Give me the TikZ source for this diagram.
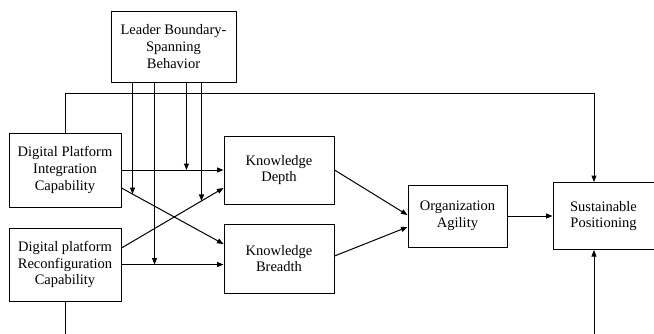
\documentclass[tikz,border=0pt]{standalone}
\usepackage{fontspec}
\setmainfont{Liberation Serif}
\usetikzlibrary{arrows.meta,positioning,calc}
\tikzset{
  model box/.style={
    rectangle,
    draw=black,
    line width=1pt,
    align=center,
    inner sep=2pt,
    minimum width=110pt,
    minimum height=68pt,
    font=\fontsize{14.5}{16.9}\selectfont,
  },
  model arrow/.style={-{Triangle[length=6.5pt,width=5pt]}, line width=1pt},
  model line/.style={line width=1pt},
}

\begin{document}
\begin{tikzpicture}[x=1pt,y=1pt]
  \useasboundingbox (0,0) rectangle (654,-333);
  \node[model box,minimum width=112pt,minimum height=74pt] (dpi) at (65,-170) {Digital Platform\\Integration\\Capability};
  \node[model box,minimum width=112pt,minimum height=73pt,below=20pt of dpi] (dpr) {Digital platform\\Reconfiguration\\Capability};
  \node[model box,right=102pt of dpi] (kd) {Knowledge\\Depth};
  \node[model box,minimum height=69pt,below=19pt of kd] (kb) {Knowledge\\Breadth};
  \node[model box,minimum width=125pt,minimum height=71pt] (lbs) at (173.5,-46.5) {Leader Boundary-\\Spanning\\Behavior};
  \node[model box,minimum width=99pt,minimum height=62pt] (oa) at (457.5,-216) {Organization\\Agility};
  \node[model box,minimum width=101pt,minimum height=67pt,right=45pt of oa] (sp) {Sustainable\\Positioning};
  \coordinate (top) at ([yshift=-11pt]lbs.south);
  \coordinate (bot) at (0,-345);

  % capabilities to knowledge
  \draw[model arrow] (dpi.east) -- coordinate[pos=0.637] (m3) (dpi.east -| kd.west);
  \draw[model arrow] ([yshift=-18pt]dpi.east) -- coordinate[pos=0.108] (m1) ([yshift=14.5pt]kb.west);
  \draw[model arrow] ([yshift=16.5pt]dpr.east) -- coordinate[pos=0.784] (m4) ([yshift=-18pt]kd.west);
  \draw[model arrow] (dpr.east) -- coordinate[pos=0.324] (m2) (dpr.east -| kb.west);

  % moderation by leader
  \draw[model arrow] (lbs.south -| m1) -- (m1);
  \draw[model arrow] (lbs.south -| m2) -- (m2);
  \draw[model arrow] (lbs.south -| m3) -- (m3);
  \draw[model arrow] (lbs.south -| m4) -- (m4);

  % knowledge to agility to positioning
  \draw[model arrow] (kd.east) -- ([yshift=1pt]oa.west);
  \draw[model arrow] ([yshift=2.5pt]kb.east) -- ([yshift=-11pt]oa.west);
  \draw[model arrow] (oa.east) -- (oa.east -| sp.west);

  % direct paths
  \draw[model arrow] (dpi.north) |- (top) -| ([xshift=-9.5pt]sp.north);
  \draw[model arrow] (dpr.south) |- (bot) -| ([xshift=-9.5pt]sp.south);
\end{tikzpicture}
\end{document}
